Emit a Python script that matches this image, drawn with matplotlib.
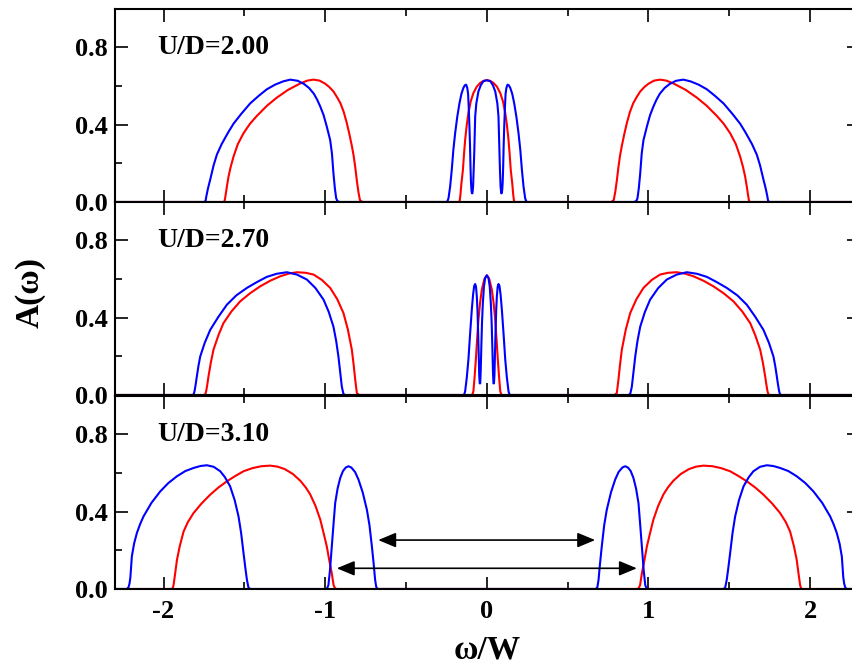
import matplotlib
matplotlib.use("Agg")
import matplotlib.pyplot as plt

plt.rcParams["font.family"] = ["Liberation Serif", "DejaVu Serif"]
plt.rcParams["font.weight"] = "bold"
plt.rcParams["axes.unicode_minus"] = False

X_MIN, X_MAX = -2.3, 2.3

# ---------------- U/D = 2.00 ----------------
u200_red_left_x = [-1.63, -1.622, -1.617, -1.608, -1.598, -1.585, -1.567, -1.54, -1.505, -1.465, -1.423, -1.36, -1.299, -1.23, -1.155, -1.11, -1.072,
                   -1.035, -1.0, -0.975, -0.949, -0.925, -0.905, -0.885, -0.866, -0.85, -0.835, -0.824, -0.814, -0.804, -0.794, -0.785, -0.77]
u200_red_left_y = [0.0, 0.005, 0.03, 0.08, 0.131, 0.18, 0.235, 0.3, 0.356, 0.405, 0.445, 0.498, 0.54, 0.58, 0.613, 0.628, 0.633,
                   0.628, 0.612, 0.595, 0.572, 0.54, 0.51, 0.465, 0.408, 0.35, 0.29, 0.24, 0.18, 0.11, 0.05, 0.01, 0.0]
u200_red_mid_x = [-0.175, -0.168, -0.163, -0.158, -0.148, -0.141, -0.134, -0.124, -0.114, -0.1, -0.083, -0.062, -0.041, -0.02, 0.0,
                  0.02, 0.041, 0.062, 0.083, 0.1, 0.114, 0.124, 0.134, 0.141, 0.148, 0.158, 0.163, 0.168, 0.175]
u200_red_mid_y = [0.0, 0.005, 0.04, 0.09, 0.166, 0.25, 0.322, 0.4, 0.46, 0.52, 0.564, 0.597, 0.616, 0.627, 0.63,
                  0.627, 0.616, 0.597, 0.564, 0.52, 0.46, 0.4, 0.322, 0.25, 0.166, 0.09, 0.04, 0.005, 0.0]
u200_red_right_x = [0.77, 0.785, 0.794, 0.804, 0.814, 0.824, 0.835, 0.85, 0.866, 0.885, 0.905, 0.925, 0.949, 0.975, 1.0, 1.035, 1.072,
                    1.11, 1.155, 1.23, 1.299, 1.36, 1.423, 1.465, 1.505, 1.54, 1.567, 1.585, 1.598, 1.608, 1.617, 1.622, 1.63]
u200_red_right_y = [0.0, 0.01, 0.05, 0.11, 0.18, 0.24, 0.29, 0.35, 0.408, 0.465, 0.51, 0.54, 0.572, 0.595, 0.612, 0.628, 0.633,
                    0.628, 0.613, 0.58, 0.54, 0.498, 0.445, 0.405, 0.356, 0.3, 0.235, 0.18, 0.131, 0.08, 0.03, 0.005, 0.0]

u200_blue_left_x = [-1.75, -1.74, -1.735, -1.725, -1.71, -1.69, -1.67, -1.64, -1.6, -1.567, -1.52, -1.464, -1.41, -1.361, -1.31, -1.26,
                    -1.216, -1.17, -1.13, -1.1, -1.07, -1.05, -1.031, -1.01, -0.99, -0.969, -0.958, -0.949, -0.94, -0.932, -0.925, -0.91]
u200_blue_left_y = [0.0, 0.005, 0.03, 0.07, 0.12, 0.19, 0.245, 0.30, 0.36, 0.405, 0.455, 0.51, 0.55, 0.583, 0.607, 0.624,
                    0.633, 0.627, 0.61, 0.59, 0.56, 0.53, 0.495, 0.45, 0.39, 0.32, 0.25, 0.15, 0.07, 0.02, 0.005, 0.0]
u200_blue_mid_x = [-0.25, -0.243, -0.237, -0.227, -0.217, -0.207, -0.196, -0.183, -0.169, -0.157, -0.145, -0.136, -0.128, -0.121, -0.116, -0.112,
                   -0.108, -0.104, -0.101, -0.098, -0.095, -0.092, -0.089, -0.085, -0.081, -0.078, -0.075, -0.072, -0.065, -0.052, -0.037, -0.021, 0.0,
                   0.021, 0.037, 0.052, 0.065, 0.072, 0.075, 0.078, 0.081, 0.085, 0.089, 0.092, 0.095, 0.098, 0.101, 0.104, 0.108,
                   0.112, 0.116, 0.121, 0.128, 0.136, 0.145, 0.157, 0.169, 0.183, 0.196, 0.207, 0.217, 0.227, 0.237, 0.243, 0.25]
u200_blue_mid_y = [0.0, 0.005, 0.02, 0.08, 0.166, 0.27, 0.356, 0.44, 0.512, 0.56, 0.59, 0.604, 0.607, 0.59, 0.56, 0.49,
                   0.40, 0.29, 0.18, 0.1, 0.06, 0.045, 0.045, 0.08, 0.17, 0.25, 0.35, 0.443, 0.51, 0.572, 0.605, 0.625, 0.63,
                   0.625, 0.605, 0.572, 0.51, 0.443, 0.35, 0.25, 0.17, 0.08, 0.045, 0.045, 0.06, 0.1, 0.18, 0.29, 0.40,
                   0.49, 0.56, 0.59, 0.607, 0.604, 0.59, 0.56, 0.512, 0.44, 0.356, 0.27, 0.166, 0.08, 0.02, 0.005, 0.0]
u200_blue_right_x = [0.91, 0.925, 0.932, 0.94, 0.949, 0.958, 0.969, 0.99, 1.01, 1.031, 1.05, 1.07, 1.1, 1.13, 1.17, 1.216,
                     1.26, 1.31, 1.361, 1.41, 1.464, 1.52, 1.567, 1.6, 1.64, 1.67, 1.69, 1.71, 1.725, 1.735, 1.74, 1.75]
u200_blue_right_y = [0.0, 0.005, 0.02, 0.07, 0.15, 0.25, 0.32, 0.39, 0.45, 0.495, 0.53, 0.56, 0.59, 0.61, 0.627, 0.633,
                     0.624, 0.607, 0.583, 0.55, 0.51, 0.455, 0.405, 0.36, 0.30, 0.245, 0.19, 0.12, 0.07, 0.03, 0.005, 0.0]

# ---------------- U/D = 2.70 ----------------
u270_red_left_x = [-1.75, -1.741, -1.736, -1.729, -1.722, -1.708, -1.691, -1.66, -1.629, -1.58, -1.526, -1.465, -1.402, -1.34, -1.278,
                   -1.225, -1.175, -1.12, -1.072, -1.02, -0.969, -0.925, -0.887, -0.86, -0.835, -0.823, -0.814, -0.804, -0.79]
u270_red_left_y = [0.0, 0.005, 0.02, 0.055, 0.095, 0.165, 0.234, 0.31, 0.372, 0.432, 0.484, 0.526, 0.562, 0.591, 0.614,
                   0.628, 0.635, 0.632, 0.623, 0.595, 0.554, 0.495, 0.424, 0.34, 0.234, 0.15, 0.078, 0.01, 0.0]
u270_red_mid_x = [-0.095, -0.088, -0.083, -0.076, -0.068, -0.06, -0.052, -0.042, -0.031, -0.015, 0.0,
                  0.015, 0.031, 0.042, 0.052, 0.06, 0.068, 0.076, 0.083, 0.088, 0.095]
u270_red_mid_y = [0.0, 0.005, 0.02, 0.09, 0.182, 0.29, 0.389, 0.475, 0.545, 0.6, 0.619,
                  0.6, 0.545, 0.475, 0.389, 0.29, 0.182, 0.09, 0.02, 0.005, 0.0]
u270_red_right_x = [0.79, 0.804, 0.814, 0.823, 0.835, 0.86, 0.887, 0.925, 0.969, 1.02, 1.072, 1.12, 1.175, 1.225,
                    1.278, 1.34, 1.402, 1.465, 1.526, 1.58, 1.629, 1.66, 1.691, 1.708, 1.722, 1.729, 1.736, 1.741, 1.75]
u270_red_right_y = [0.0, 0.01, 0.078, 0.15, 0.234, 0.34, 0.424, 0.495, 0.554, 0.595, 0.623, 0.632, 0.635, 0.628,
                    0.614, 0.591, 0.562, 0.526, 0.484, 0.432, 0.372, 0.31, 0.234, 0.165, 0.095, 0.055, 0.02, 0.005, 0.0]

u270_blue_left_x = [-1.82, -1.813, -1.808, -1.801, -1.794, -1.784, -1.773, -1.745, -1.711, -1.66, -1.608, -1.55, -1.484, -1.42, -1.361,
                    -1.3, -1.237, -1.175, -1.113, -1.06, -1.01, -0.978, -0.949, -0.932, -0.918, -0.906, -0.897, -0.887, -0.875]
u270_blue_left_y = [0.0, 0.005, 0.02, 0.055, 0.095, 0.15, 0.199, 0.27, 0.337, 0.405, 0.467, 0.515, 0.554, 0.585, 0.611,
                    0.627, 0.635, 0.623, 0.597, 0.553, 0.493, 0.43, 0.354, 0.28, 0.199, 0.11, 0.043, 0.005, 0.0]
u270_blue_mid_x = [-0.145, -0.139, -0.134, -0.124, -0.114, -0.104, -0.093, -0.085, -0.078, -0.072, -0.067, -0.062, -0.058, -0.054,
                   -0.05, -0.047, -0.044, -0.041, -0.038, -0.034, -0.03, -0.025, -0.018, -0.01, 0.0,
                   0.01, 0.018, 0.025, 0.03, 0.034, 0.038, 0.041, 0.044, 0.047, 0.05, 0.054, 0.058, 0.062, 0.067,
                   0.072, 0.078, 0.085, 0.093, 0.104, 0.114, 0.124, 0.134, 0.139, 0.145]
u270_blue_mid_y = [0.0, 0.005, 0.02, 0.09, 0.182, 0.31, 0.441, 0.52, 0.565, 0.574, 0.56, 0.51, 0.441, 0.33,
                   0.2, 0.1, 0.06, 0.06, 0.12, 0.25, 0.37, 0.47, 0.56, 0.606, 0.619,
                   0.606, 0.56, 0.47, 0.37, 0.25, 0.12, 0.06, 0.06, 0.1, 0.2, 0.33, 0.441, 0.51, 0.56,
                   0.574, 0.565, 0.52, 0.441, 0.31, 0.182, 0.09, 0.02, 0.005, 0.0]
u270_blue_right_x = [0.875, 0.887, 0.897, 0.906, 0.918, 0.932, 0.949, 0.978, 1.01, 1.06, 1.113, 1.175, 1.237, 1.3,
                     1.361, 1.42, 1.484, 1.55, 1.608, 1.66, 1.711, 1.745, 1.773, 1.784, 1.794, 1.801, 1.808, 1.813, 1.82]
u270_blue_right_y = [0.0, 0.005, 0.043, 0.11, 0.199, 0.28, 0.354, 0.43, 0.493, 0.553, 0.597, 0.623, 0.635, 0.627,
                     0.611, 0.585, 0.554, 0.515, 0.467, 0.405, 0.337, 0.27, 0.199, 0.15, 0.095, 0.055, 0.02, 0.005, 0.0]

# ---------------- U/D = 3.10 ----------------
u310_red_left_x = [-1.95, -1.943, -1.938, -1.928, -1.917, -1.9, -1.876, -1.85, -1.814, -1.765, -1.711, -1.66, -1.608, -1.555, -1.505,
                   -1.45, -1.395, -1.34, -1.295, -1.25, -1.2, -1.154, -1.12, -1.093, -1.06, -1.03, -1.01, -0.99, -0.975, -0.959,
                   -0.948, -0.94, -0.93]
u310_red_left_y = [0.0, 0.005, 0.02, 0.08, 0.15, 0.22, 0.297, 0.345, 0.393, 0.442, 0.488, 0.525, 0.557, 0.585, 0.609,
                   0.625, 0.635, 0.638, 0.633, 0.62, 0.595, 0.56, 0.525, 0.49, 0.43, 0.358, 0.29, 0.22, 0.15, 0.08,
                   0.02, 0.005, 0.0]
u310_red_right_x = [0.93, 0.94, 0.948, 0.959, 0.975, 0.99, 1.01, 1.03, 1.06, 1.093, 1.12, 1.154, 1.2, 1.25, 1.295, 1.34,
                    1.395, 1.45, 1.505, 1.555, 1.608, 1.66, 1.711, 1.765, 1.814, 1.85, 1.876, 1.9, 1.917, 1.928, 1.938, 1.943, 1.95]
u310_red_right_y = [0.0, 0.005, 0.02, 0.08, 0.15, 0.22, 0.29, 0.358, 0.43, 0.49, 0.525, 0.56, 0.595, 0.62, 0.633, 0.638,
                    0.635, 0.625, 0.609, 0.585, 0.557, 0.525, 0.488, 0.442, 0.393, 0.345, 0.297, 0.22, 0.15, 0.08, 0.02, 0.005, 0.0]

u310_blue_outer_left_x = [-2.23, -2.222, -2.216, -2.21, -2.205, -2.2, -2.196, -2.182, -2.165, -2.145, -2.124, -2.075, -2.02, -1.97, -1.917,
                          -1.865, -1.814, -1.772, -1.732, -1.69, -1.649, -1.62, -1.588, -1.56, -1.536, -1.52, -1.505, -1.494, -1.484, -1.474, -1.46]
u310_blue_outer_left_y = [0.0, 0.003, 0.01, 0.03, 0.06, 0.12, 0.168, 0.235, 0.289, 0.335, 0.375, 0.445, 0.505, 0.548, 0.583,
                          0.61, 0.626, 0.636, 0.64, 0.632, 0.609, 0.578, 0.531, 0.46, 0.375, 0.29, 0.185, 0.11, 0.047, 0.005, 0.0]
u310_blue_inner_left_x = [-0.995, -0.987, -0.98, -0.97, -0.959, -0.948, -0.938, -0.923, -0.907, -0.89, -0.873, -0.856,
                          -0.838, -0.815, -0.794, -0.768, -0.742, -0.726, -0.711, -0.7, -0.691, -0.684, -0.675]
u310_blue_inner_left_y = [0.0, 0.005, 0.02, 0.1, 0.22, 0.34, 0.445, 0.52, 0.574, 0.61, 0.628, 0.635,
                          0.628, 0.605, 0.566, 0.5, 0.41, 0.33, 0.22, 0.13, 0.047, 0.01, 0.0]
u310_blue_inner_right_x = [0.675, 0.684, 0.691, 0.7, 0.711, 0.726, 0.742, 0.768, 0.794, 0.815, 0.838, 0.856,
                           0.873, 0.89, 0.907, 0.923, 0.938, 0.948, 0.959, 0.97, 0.98, 0.987, 0.995]
u310_blue_inner_right_y = [0.0, 0.01, 0.047, 0.13, 0.22, 0.33, 0.41, 0.5, 0.566, 0.605, 0.628, 0.635,
                           0.628, 0.61, 0.574, 0.52, 0.445, 0.34, 0.22, 0.1, 0.02, 0.005, 0.0]
u310_blue_outer_right_x = [1.46, 1.474, 1.484, 1.494, 1.505, 1.52, 1.536, 1.56, 1.588, 1.62, 1.649, 1.69, 1.732, 1.772, 1.814,
                           1.865, 1.917, 1.97, 2.02, 2.075, 2.124, 2.145, 2.165, 2.182, 2.196, 2.2, 2.205, 2.21, 2.216, 2.222, 2.23]
u310_blue_outer_right_y = [0.0, 0.005, 0.047, 0.11, 0.185, 0.29, 0.375, 0.46, 0.531, 0.578, 0.609, 0.632, 0.64, 0.636, 0.626,
                           0.61, 0.583, 0.548, 0.505, 0.445, 0.375, 0.335, 0.289, 0.235, 0.168, 0.12, 0.06, 0.03, 0.01, 0.003, 0.0]

panel_labels = ["U/D=2.00", "U/D=2.70", "U/D=3.10"]

red_x = [
    [X_MIN] + u200_red_left_x + u200_red_mid_x + u200_red_right_x + [X_MAX],
    [X_MIN] + u270_red_left_x + u270_red_mid_x + u270_red_right_x + [X_MAX],
    [X_MIN] + u310_red_left_x + u310_red_right_x + [X_MAX],
]
red_y = [
    [0.0] + u200_red_left_y + u200_red_mid_y + u200_red_right_y + [0.0],
    [0.0] + u270_red_left_y + u270_red_mid_y + u270_red_right_y + [0.0],
    [0.0] + u310_red_left_y + u310_red_right_y + [0.0],
]
blue_x = [
    [X_MIN] + u200_blue_left_x + u200_blue_mid_x + u200_blue_right_x + [X_MAX],
    [X_MIN] + u270_blue_left_x + u270_blue_mid_x + u270_blue_right_x + [X_MAX],
    [X_MIN] + u310_blue_outer_left_x + u310_blue_inner_left_x + u310_blue_inner_right_x + u310_blue_outer_right_x + [X_MAX],
]
blue_y = [
    [0.0] + u200_blue_left_y + u200_blue_mid_y + u200_blue_right_y + [0.0],
    [0.0] + u270_blue_left_y + u270_blue_mid_y + u270_blue_right_y + [0.0],
    [0.0] + u310_blue_outer_left_y + u310_blue_inner_left_y + u310_blue_inner_right_y + u310_blue_outer_right_y + [0.0],
]

# gap arrows in the U/D=3.10 panel
arrow_x = [(-0.672, 0.67), (-0.928, 0.928)]
arrow_y = [0.253, 0.107]

fig = plt.figure(figsize=(8.52, 6.68), dpi=100)
left, width, height = 0.135, 0.8728, 0.2894
bottoms = [0.6976, 0.4087, 0.1183]

axes = []
for i in range(3):
    ax = fig.add_axes([left, bottoms[i], width, height])
    ax.plot(red_x[i], red_y[i], color="red", lw=1.5, solid_joinstyle="round")
    ax.plot(blue_x[i], blue_y[i], color="blue", lw=1.5, solid_joinstyle="round")
    ax.set_xlim(X_MIN, X_MAX)
    ax.set_ylim(0, 1.0)
    ax.set_xticks([-2, -1, 0, 1, 2])
    ax.set_xticks([-1.5, -0.5, 0.5, 1.5], minor=True)
    ax.set_yticks([0.0, 0.4, 0.8])
    ax.set_yticklabels(["0.0", "0.4", "0.8"])
    ax.set_yticks([0.2, 0.6], minor=True)
    ax.tick_params(which="both", direction="in", top=True, right=True, width=1.2, labelsize=19)
    ax.tick_params(which="major", length=9)
    ax.tick_params(which="minor", length=5)
    ax.tick_params(axis="y", pad=5)
    ax.tick_params(axis="x", pad=8)
    for s in ax.spines.values():
        s.set_linewidth(1.5)
    if i < 2:
        ax.tick_params(labelbottom=False)
    ax.text(-2.04, 0.8, panel_labels[i], fontsize=20, fontweight="bold", va="center")
    axes.append(ax)

for (x0, x1), y in zip(arrow_x, arrow_y):
    axes[2].annotate("", xy=(x1, y), xytext=(x0, y),
                     arrowprops=dict(arrowstyle="<|-|>,head_length=0.6,head_width=0.25",
                                     color="black", lw=1.2, mutation_scale=18,
                                     shrinkA=0, shrinkB=0))

fig.text(30 / 852, 1 - 292 / 668, "A(ω)", rotation=90, fontsize=24, fontweight="bold",
         ha="center", va="center")
fig.text(487 / 852, 1 - 650 / 668, "ω/W", fontsize=24, fontweight="bold",
         ha="center", va="center")

fig.savefig("out.png", dpi=100)
